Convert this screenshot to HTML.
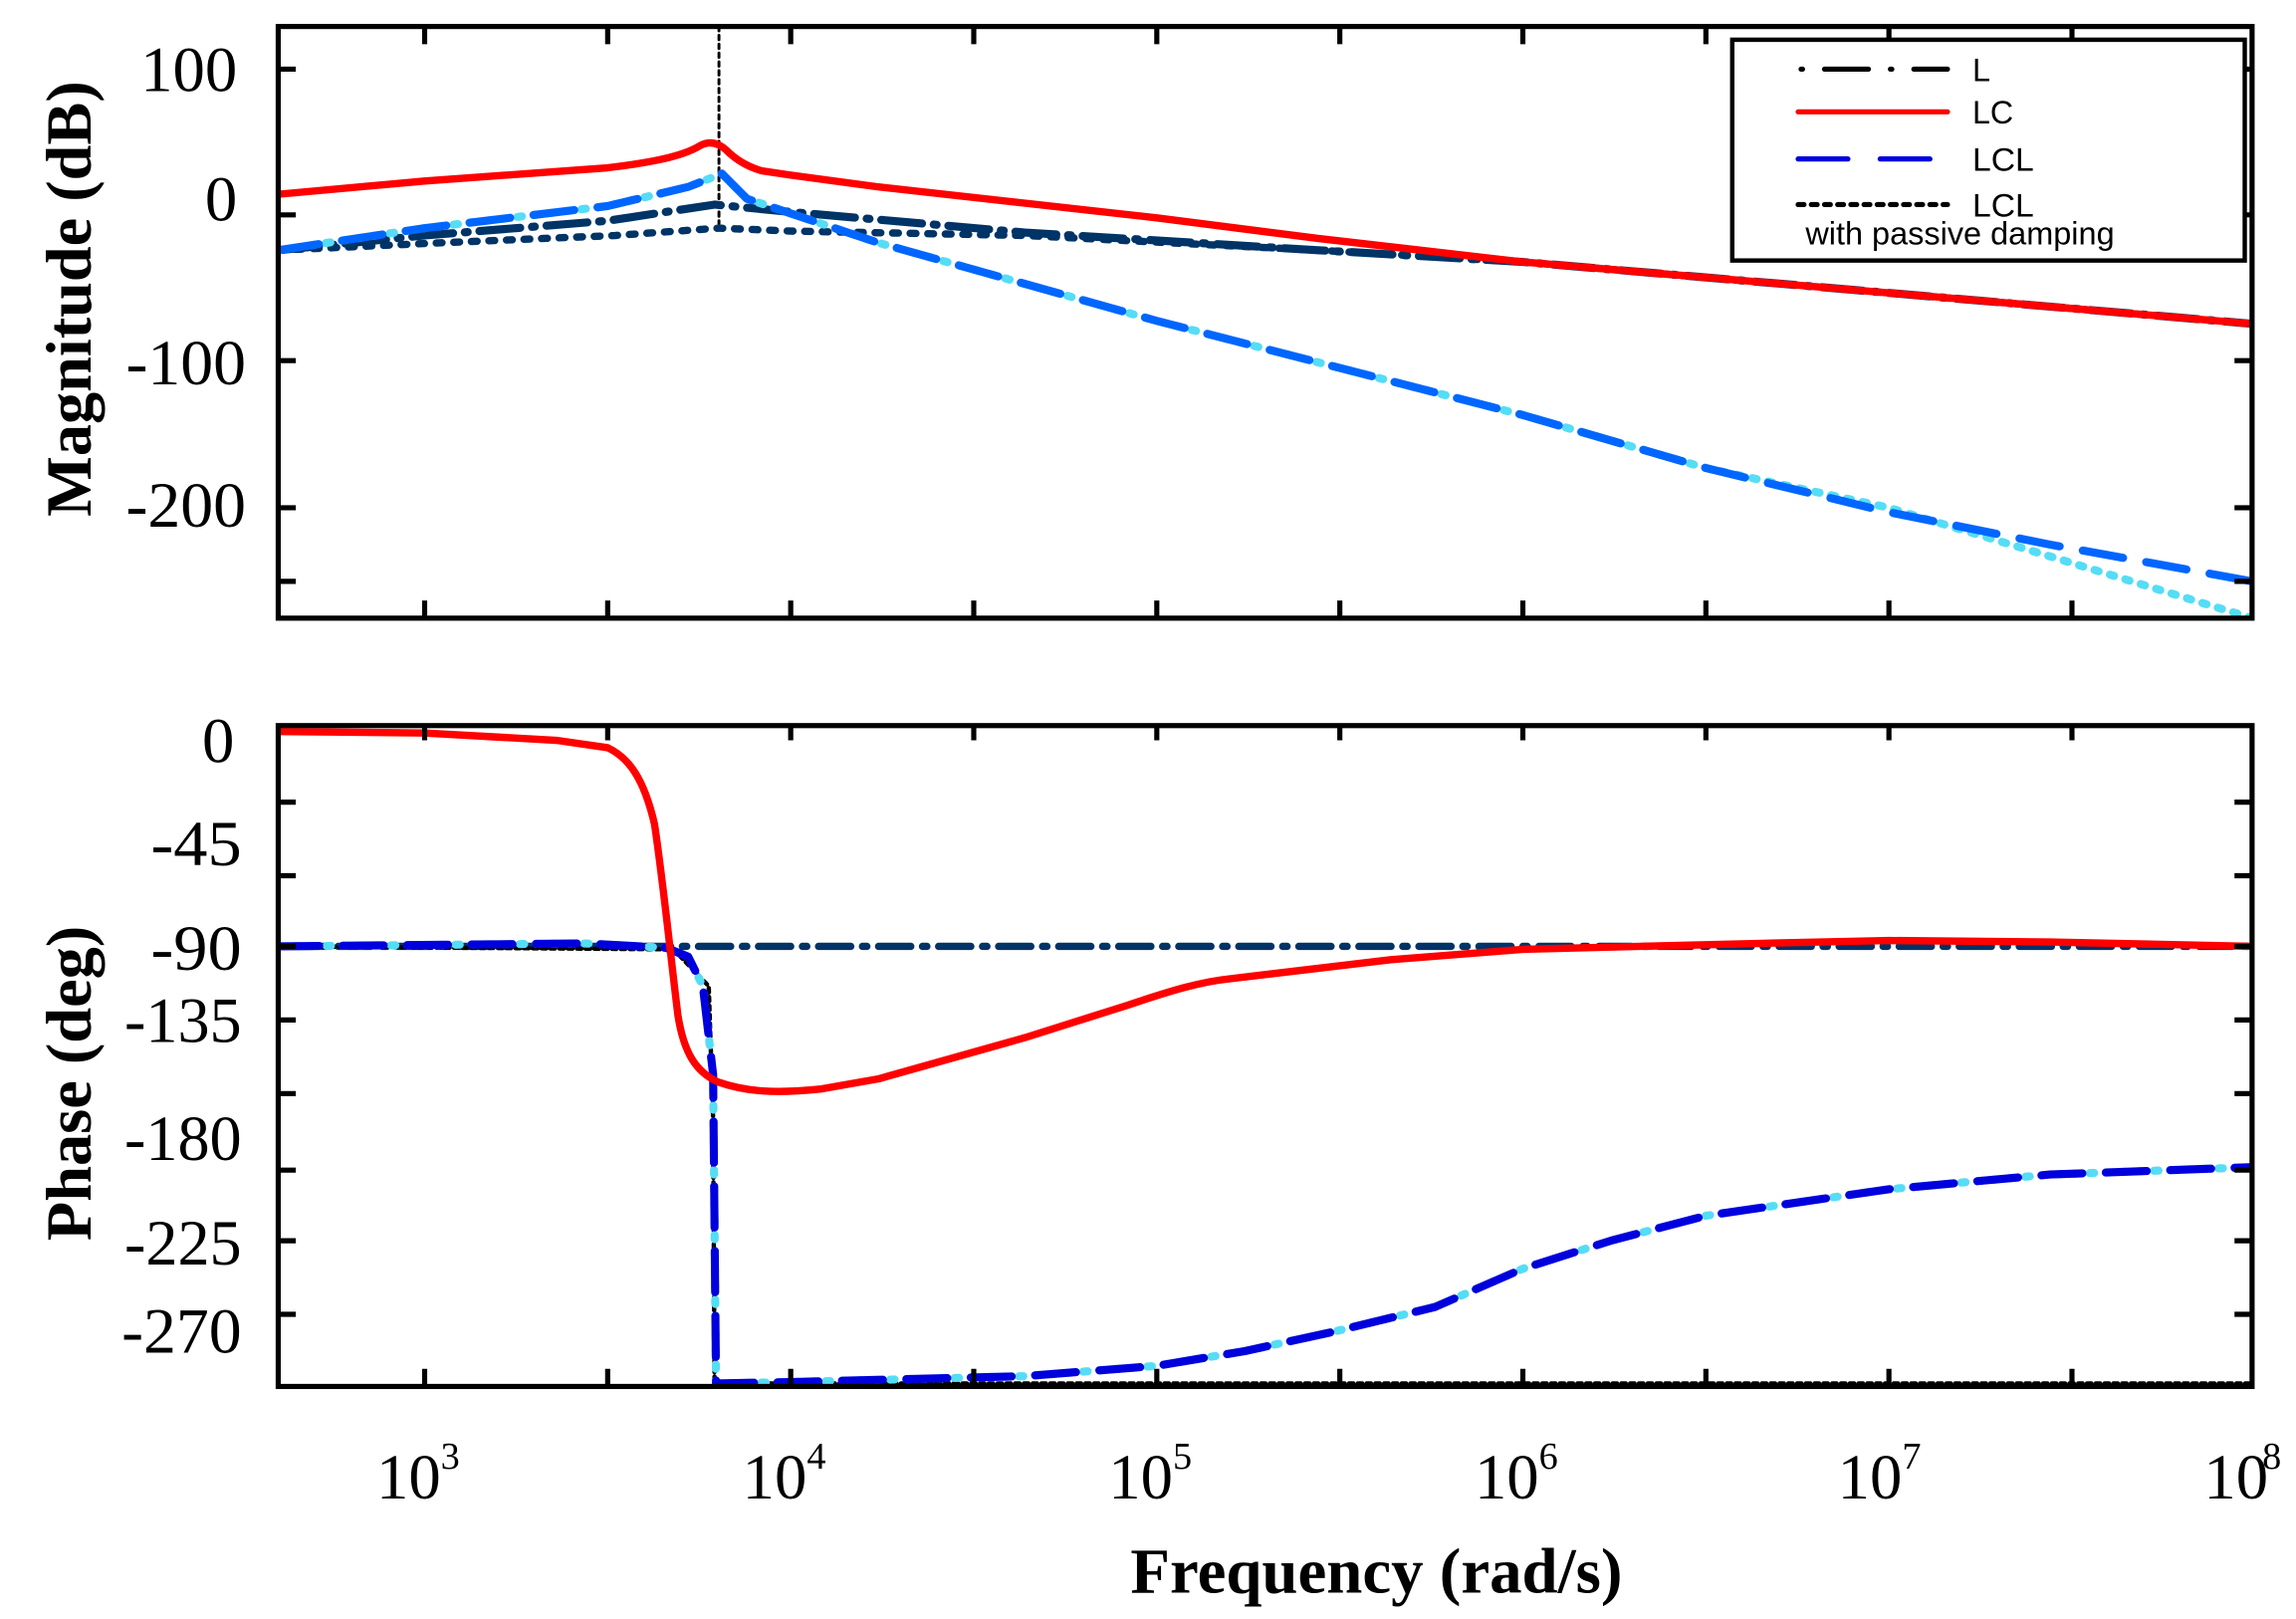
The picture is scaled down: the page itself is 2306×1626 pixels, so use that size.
<!DOCTYPE html>
<html><head><meta charset="utf-8"><style>html,body{margin:0;padding:0;background:#fff}svg{display:block}</style></head>
<body>
<svg width="2306" height="1626" viewBox="0 0 1568 1100" preserveAspectRatio="none" xmlns="http://www.w3.org/2000/svg">
<defs>
<clipPath id="c1"><rect x="190" y="18" width="1348" height="402"/></clipPath>
<clipPath id="c2"><rect x="190" y="493" width="1348" height="449"/></clipPath>
</defs>
<g fill="none" stroke-linecap="round" stroke-linejoin="round">
<g clip-path="url(#c1)">
<line x1="491" y1="18" x2="491" y2="152" stroke="#000" stroke-width="2" stroke-dasharray="3,3"/>
<polyline points="190,170 300,165 420,160 491,155 540,157 700,160 900,170 1040,178 1538,220" stroke="#003366" stroke-width="5" stroke-dasharray="4,8"/>
<polyline points="190,170 290,160 415,150 488,139 540,144 700,158 900,170 1040,178 1290,199 1538,220" stroke="#003366" stroke-width="5.5" stroke-dasharray="28,8,2,8"/>
<polyline points="190,170 290,155 415,140 470,127 493,118 510,135 540,145 600,165 790,218 1040,282 1165,318 1290,345 1400,378 1538,420" stroke="#55ddf5" stroke-width="5.5" stroke-dasharray="3,8"/>
<polyline points="190,170 290,155 415,140 470,127 493,118 510,135 540,145 600,165 790,218 1040,282 1165,318 1290,348 1400,370 1538,395" stroke="#0066ff" stroke-width="5.5" stroke-dasharray="28,16"/>
<path d="M190,132 L290,123 L415,114 C440,111 465,107 478,99 Q487,94 496,102 Q506,112 520,116 L540,119 L600,127 L790,148 L900,162 L1040,178 L1290,199 L1538,220" stroke="#ff0000" stroke-width="5"/>
</g>
<g clip-path="url(#c2)">
<polyline points="190,643 1538,643" stroke="#003366" stroke-width="5" stroke-dasharray="22,8,3,8"/>
<polyline points="190,643 460,645 484,670 487,760 488,940 1538,940" stroke="#000" stroke-width="3" stroke-dasharray="3,3"/>
<polyline points="190,643 400,641 455,644 470,650 480,670 487,730 489,940 540,939 700,935 790,928 850,918 910,905 980,888 1040,862 1100,843 1165,826 1290,808 1400,798 1538,793" stroke="#55ddf5" stroke-width="5.5" stroke-dasharray="3,8"/>
<polyline points="190,643 400,641 455,644 470,650 480,670 487,730 489,940 540,939 700,935 790,928 850,918 910,905 980,888 1040,862 1100,843 1165,826 1290,808 1400,798 1538,793" stroke="#0000dd" stroke-width="5.5" stroke-dasharray="28,16"/>
<path d="M190,497 L290,498 L380,503 L415,508 C430,515 440,530 447,560 C453,600 458,650 463,690 C467,715 475,728 490,735 C510,742 530,743 560,740 L600,733 L700,705 L770,683 C800,673 820,667 840,665 L950,652 L1040,645 L1200,641 L1290,639 L1400,640 L1538,643" stroke="#ff0000" stroke-width="5"/>
</g>
</g>
<g stroke="#000" stroke-width="3.5" fill="none">
<rect x="190" y="18" width="1348" height="402"/>
<rect x="190" y="493" width="1348" height="449"/>
<path d="M290,18v12M415,18v12M540,18v12M665,18v12M790,18v12M915,18v12M1040,18v12M1165,18v12M1290,18v12M1415,18v12
M290,420v-12M415,420v-12M540,420v-12M665,420v-12M790,420v-12M915,420v-12M1040,420v-12M1165,420v-12M1290,420v-12M1415,420v-12
M290,493v10M415,493v10M540,493v10M665,493v10M790,493v10M915,493v10M1040,493v10M1165,493v10M1290,493v10M1415,493v10
M290,942v-12M415,942v-12M540,942v-12M665,942v-12M790,942v-12M915,942v-12M1040,942v-12M1165,942v-12M1290,942v-12M1415,942v-12
M190,47h12M190,146h12M190,245h12M190,345h12M190,395h12
M1538,47h-12M1538,146h-12M1538,245h-12M1538,345h-12M1538,395h-12
M190,545h12M190,595h12M190,643h12M190,693h12M190,743h12M190,795h12M190,843h12M190,893h12
M1538,545h-12M1538,595h-12M1538,643h-12M1538,693h-12M1538,743h-12M1538,795h-12M1538,843h-12M1538,893h-12"/>
</g>
<rect x="1183" y="27" width="350" height="150" fill="#fff" stroke="#000" stroke-width="3"/>
<g fill="none" stroke-linecap="round">
<line x1="1230" y1="47" x2="1330" y2="47" stroke="#000" stroke-width="3.5" stroke-dasharray="1,15,30,15"/>
<line x1="1228" y1="76" x2="1330" y2="76" stroke="#ff0000" stroke-width="3.5"/>
<line x1="1228" y1="108" x2="1330" y2="108" stroke="#0000dd" stroke-width="3.5" stroke-dasharray="34,22"/>
<line x1="1228" y1="139" x2="1330" y2="139" stroke="#000" stroke-width="3.5" stroke-dasharray="4,5"/>
</g>
<g font-family="Liberation Sans, sans-serif" font-size="22" fill="#000">
<text x="1347" y="55">L</text>
<text x="1347" y="84" textLength="28" lengthAdjust="spacingAndGlyphs">LC</text>
<text x="1347" y="116" textLength="42" lengthAdjust="spacingAndGlyphs">LCL</text>
<text x="1347" y="147" textLength="42" lengthAdjust="spacingAndGlyphs">LCL</text>
<text x="1233" y="166" textLength="211" lengthAdjust="spacingAndGlyphs">with passive damping</text>
</g>
<g font-family="Liberation Serif, serif" font-size="44" fill="#000" text-anchor="end">
<text x="162" y="62" textLength="66" lengthAdjust="spacingAndGlyphs">100</text>
<text x="162" y="150">0</text>
<text x="168" y="261" textLength="82" lengthAdjust="spacingAndGlyphs">-100</text>
<text x="168" y="358" textLength="82" lengthAdjust="spacingAndGlyphs">-200</text>
<text x="160" y="518">0</text>
<text x="165" y="588" textLength="62" lengthAdjust="spacingAndGlyphs">-45</text>
<text x="165" y="659" textLength="62" lengthAdjust="spacingAndGlyphs">-90</text>
<text x="165" y="708" textLength="80" lengthAdjust="spacingAndGlyphs">-135</text>
<text x="165" y="788" textLength="80" lengthAdjust="spacingAndGlyphs">-180</text>
<text x="165" y="859" textLength="80" lengthAdjust="spacingAndGlyphs">-225</text>
<text x="165" y="919" textLength="82" lengthAdjust="spacingAndGlyphs">-270</text>
</g>
<g font-family="Liberation Serif, serif" fill="#000">
<g font-size="44" text-anchor="end">
<text x="301" y="1018">10</text><text x="551" y="1018">10</text><text x="801" y="1018">10</text>
<text x="1051" y="1018">10</text><text x="1299" y="1018">10</text><text x="1549" y="1018">10</text>
</g>
<g font-size="26">
<text x="301" y="998">3</text><text x="551" y="998">4</text><text x="801" y="998">5</text>
<text x="1051" y="998">6</text><text x="1299" y="998">7</text><text x="1545" y="998">8</text>
</g>
</g>
<g font-family="Liberation Serif, serif" font-weight="bold" font-size="44" fill="#000" text-anchor="middle">
<text x="940" y="1082" textLength="336" lengthAdjust="spacingAndGlyphs">Frequency (rad/s)</text>
<text transform="translate(62,203) rotate(-90)" textLength="296" lengthAdjust="spacingAndGlyphs">Magnitude (dB)</text>
<text transform="translate(62,736) rotate(-90)" textLength="214" lengthAdjust="spacingAndGlyphs">Phase (deg)</text>
</g>
</svg>
</body></html>
